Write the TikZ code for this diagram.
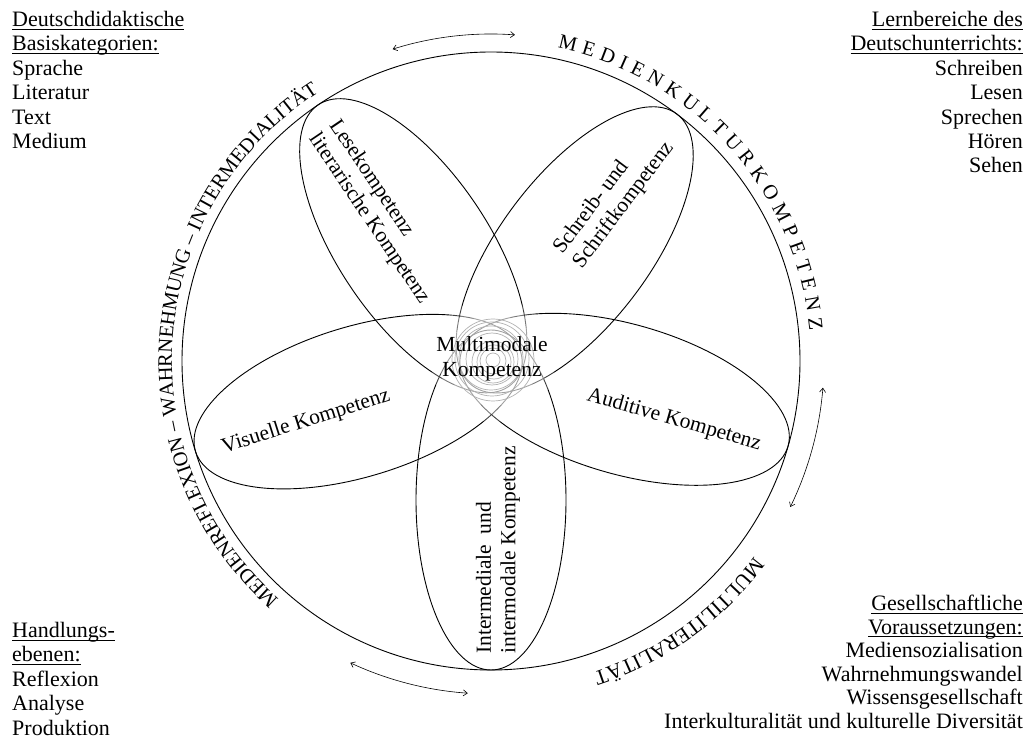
\documentclass[tikz,border=0pt]{standalone}
\usepackage{fontspec}
\setmainfont{Liberation Serif}
\usetikzlibrary{decorations.text,arrows.meta,calc}
\newcommand\myul[1]{\setbox0\hbox{#1}\rlap{\rule[-3pt]{\wd0}{0.9pt}}#1}
\begin{document}
\begin{tikzpicture}[x=1pt,y=1pt,
  lbl/.style={inner sep=0pt, font=\fontsize{21.5}{24.5}\selectfont},
  corner/.style={inner sep=0pt, font=\fontsize{22}{24.4}\selectfont},
  petal/.style={line width=0.9pt},
  arr/.style={line width=0.6pt, {Straight Barb[length=4pt,width=6pt]}-{Straight Barb[length=4pt,width=6pt]}},
  ring/.style={gray!60, line width=0.7pt}
]
\useasboundingbox (0,0) rectangle (1028,740);
\coordinate (C) at (491,379);
\coordinate (M) at (493,380);
\draw[line width=0.9pt] (C) circle [radius=309];
\foreach \t in {-16,53,124,197,270}{
  \coordinate (E\t) at ($(C)+(\t:139)$);
  \draw[petal, rotate around={\t:(E\t)}] (E\t) ellipse [x radius=170, y radius=75];
}
% fading centre
\fill[white, opacity=0.25] (M) circle [radius=62];
\fill[white, opacity=0.3] (M) circle [radius=54];
\fill[white, opacity=0.3] (M) circle [radius=46];
\foreach \r/\dx/\dy in {7/0/0, 13/0/-1, 17/1/-2, 21/0/-2, 26/-1/1, 32/-2/2, 37/-1/1, 41/0/0}{
  \draw[ring] ($(M)+(\dx,\dy)$) circle [radius=\r];
}
% arc texts
\path[decorate, decoration={text along path, text align={fit to path},
  text={|\fontsize{20.5}{20}\selectfont|MEDIENKULTURKOMPETENZ}}]
  ($(C)+(78:320)$) arc[start angle=78, end angle=5.5, radius=320];
\path[decorate, decoration={text along path, text align=center,
  text={|\fontsize{20.5}{20}\selectfont|MEDIENREFLEXION – WAHRNEHMUNG – INTERMEDIALITÄT}}]
  ($(C)+(233:319)$) arc[start angle=233, end angle=118, radius=319];
\path[decorate, decoration={text along path, text align=center,
  text={|\fontsize{21}{20}\selectfont|MULTILITERALITÄT}}]
  ($(C)+(-32:328)$) arc[start angle=-32, end angle=-76.5, radius=328];
% arrows
\coordinate (a1) at ($(C)+(107.5:327)$);
\draw[arr] (a1) arc[start angle=107.5, end angle=85.8, radius=327];
\coordinate (a2) at ($(C)+(-4.6:333)$);
\draw[arr] (a2) arc[start angle=-4.6, end angle=-26, radius=333];
\coordinate (a3) at ($(C)+(245:333)$);
\draw[arr] (a3) arc[start angle=245, end angle=266, radius=333];
% labels
\node[lbl, align=center] (mm) at (492,381) {Multimodale\\Kompetenz};
\node[lbl, align=left, rotate=-56] (lese) at (379,528) {Lesekompetenz\\literarische Kompetenz};
\node[lbl, align=left, rotate=53] (schreib) at (614,542) {Schreib- und\\Schriftkompetenz};
\node[lbl, align=left, rotate=90] (inter) at (498,190) {Intermediale\ \ und\\intermodale Kompetenz};
\node[lbl, rotate=17.5] (vis) at (306,318) {Visuelle Kompetenz};
\node[lbl, rotate=-16] (aud) at (674,320) {Auditive Kompetenz};
% corner texts
\node[corner, anchor=north west, align=left] (tl) at (12,729)
  {\myul{Deutschdidaktische}\\\myul{Basiskategorien:}\\Sprache\\Literatur\\Text\\Medium};
\node[corner, anchor=north east, align=right] (tr) at (1023,729)
  {\myul{Lernbereiche des}\\\myul{Deutschunterrichts:}\\Schreiben\\Lesen\\Sprechen\\Hören\\Sehen};
\node[corner, anchor=north west, align=left] (bl) at (12,118)
  {\myul{Handlungs-}\\\myul{ebenen:}\\Reflexion\\Analyse\\Produktion};
\node[corner, anchor=north east, align=right, font=\fontsize{22}{23.5}\selectfont] (br) at (1023,145)
  {\myul{Gesellschaftliche}\\\myul{Voraussetzungen:}\\Mediensozialisation\\Wahrnehmungswandel\\Wissensgesellschaft\\Interkulturalität und kulturelle Diversität};
\end{tikzpicture}
\end{document}
